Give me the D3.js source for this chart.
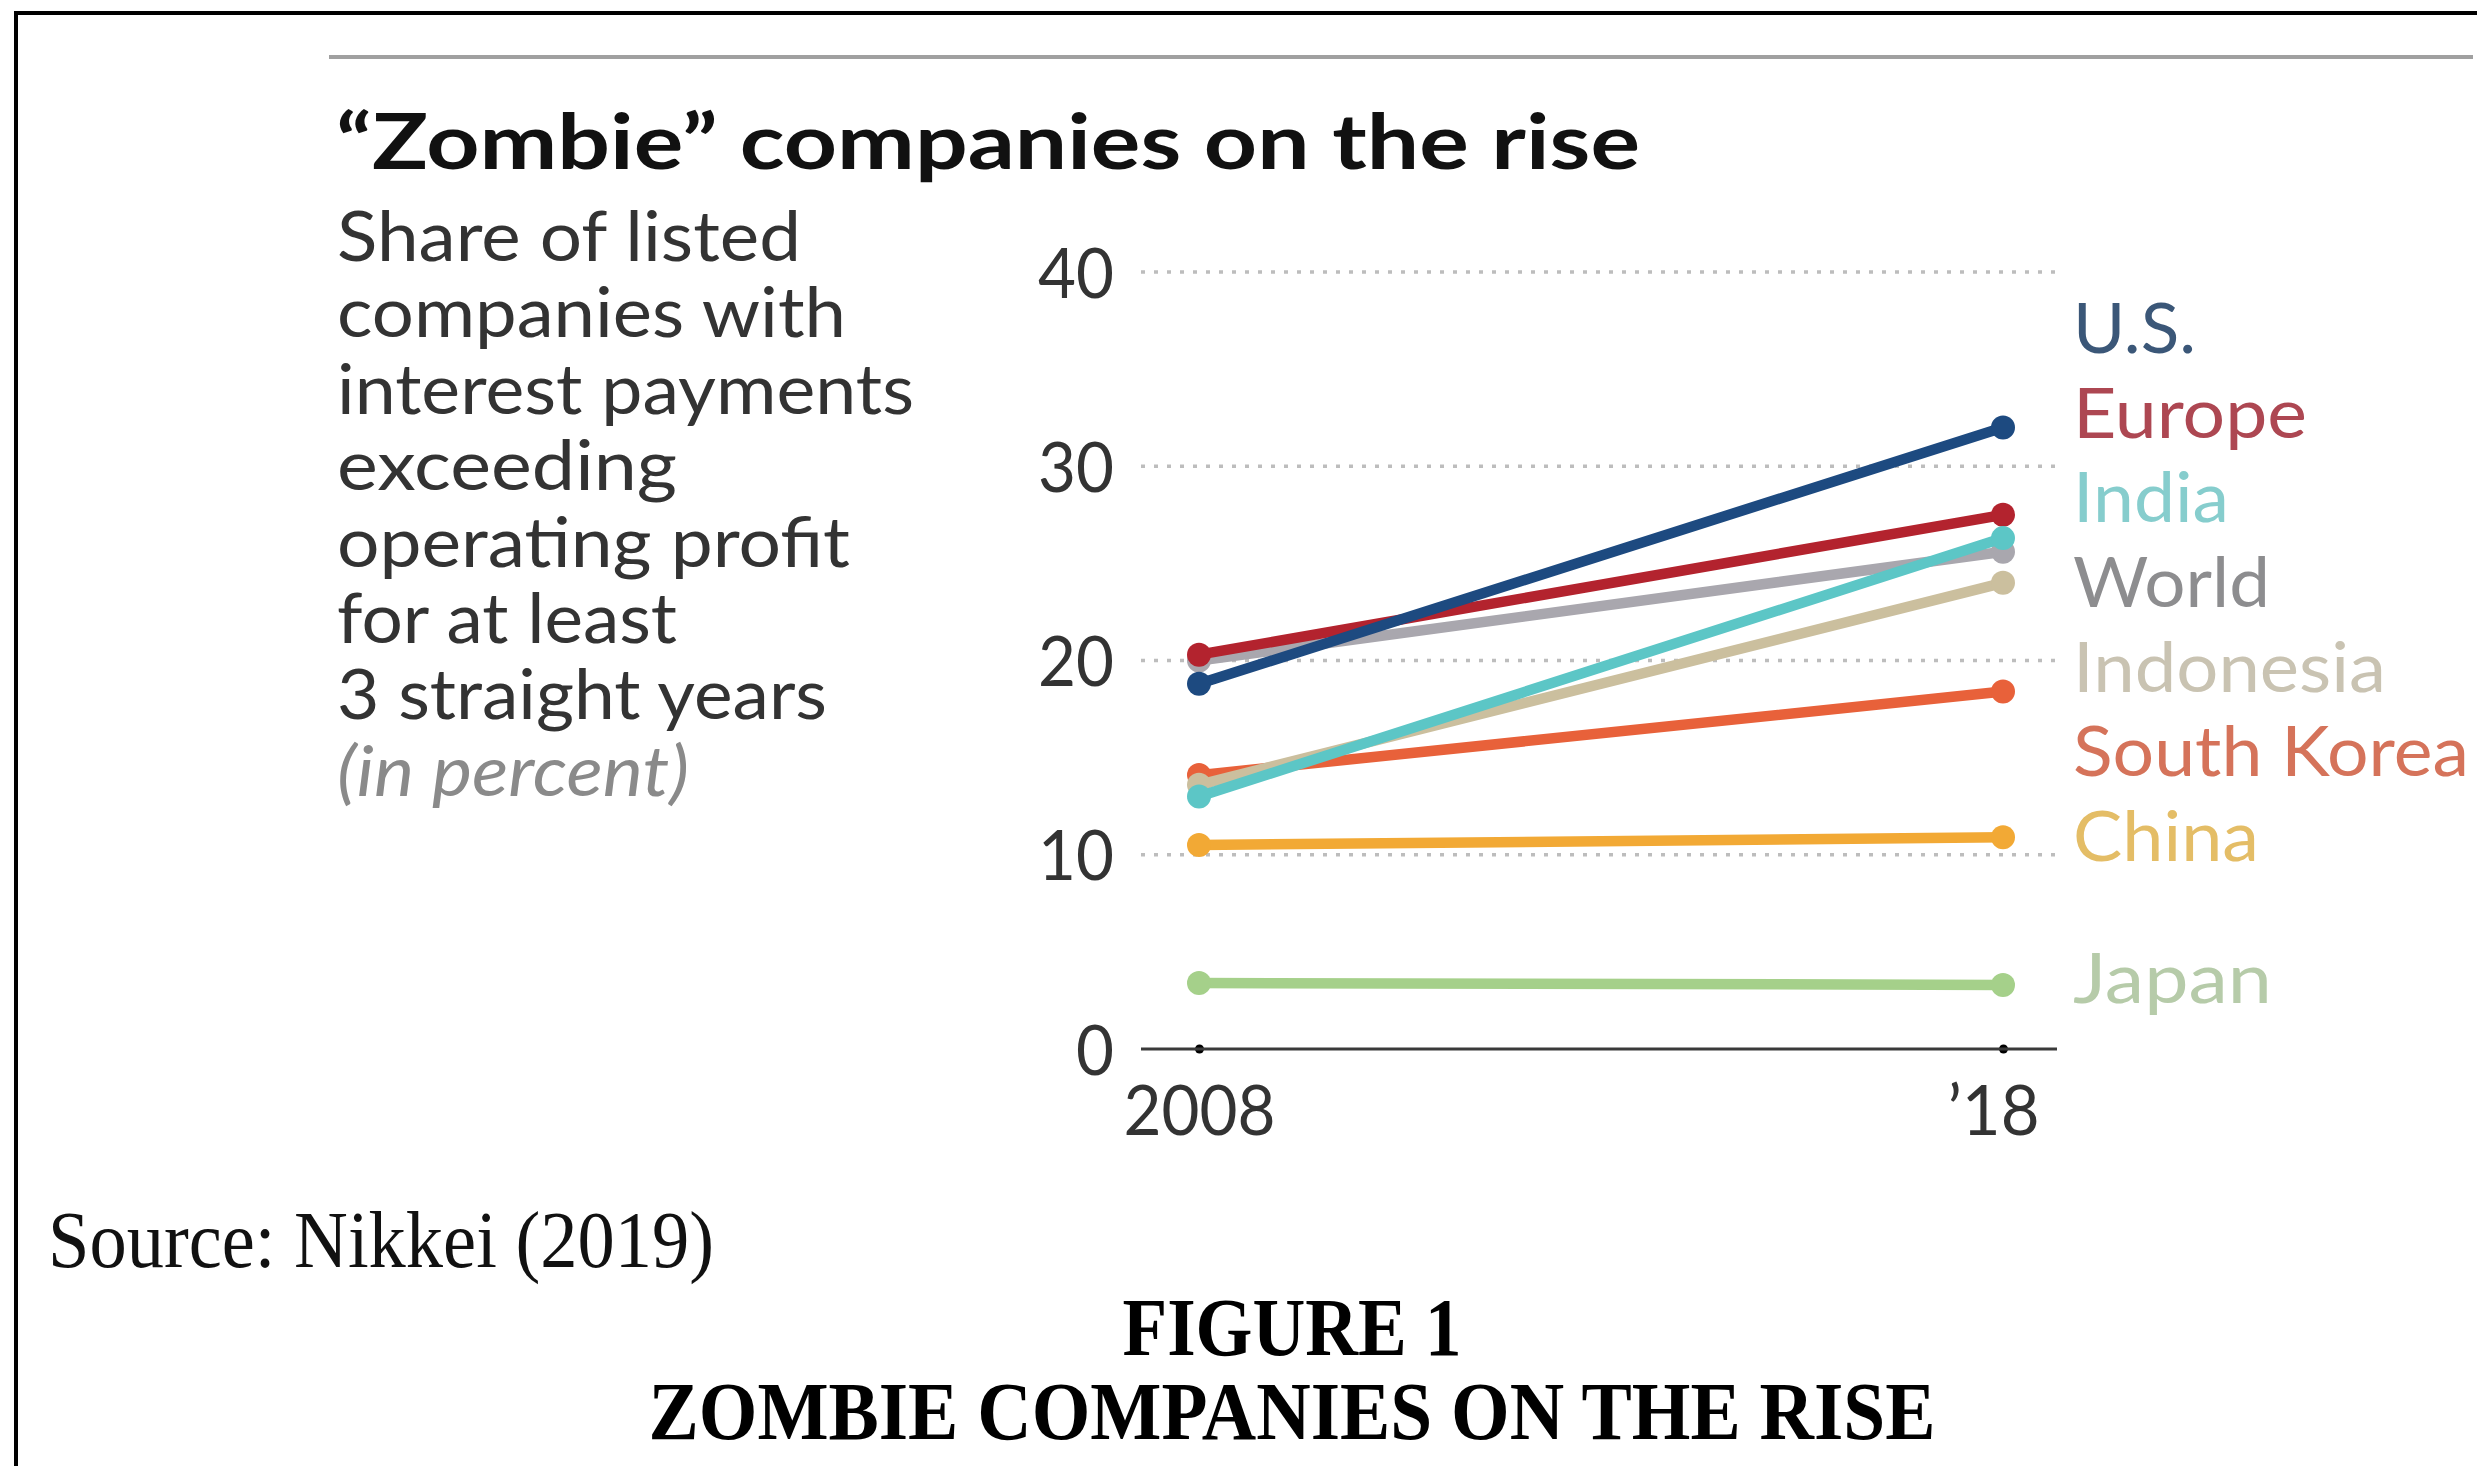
<!DOCTYPE html>
<html>
<head>
<meta charset="utf-8">
<script src="https://cdn.jsdelivr.net/npm/d3@7"></script>
<style>
  html, body { margin: 0; padding: 0; background: #fff; }
  svg { display: block; }
</style>
</head>
<body>
<script>
// Share of listed companies whose interest payments exceeded operating profit
// for at least three straight years, 2008 vs 2018 (percent).
const years = [2008, 2018];
const yearLabels = ["2008", "\u201918"];
const regions = ["U.S.", "Europe", "India", "World", "Indonesia", "South Korea", "China", "Japan"];
const share2008 = [18.8, 20.3, 13.0, 20.0, 13.6, 14.1, 10.5, 3.4];
const share2018 = [32.0, 27.5, 26.3, 25.6, 24.0, 18.4, 10.9, 3.3];
const yTicks = [0, 10, 20, 30, 40];

const lineColors  = ["#1d4a80", "#b3232e", "#5cc6c6", "#a9a7ae", "#cbbf9e", "#e8613a", "#f2a935", "#a5d08a"];
const labelColors = ["#3b5778", "#ad4752", "#86cdcd", "#8d8d8f", "#c9c3b2", "#d5735a", "#e4bd66", "#b6cba9"];

const subtitleLines = ["Share of listed", "companies with", "interest payments", "exceeding",
                       "operating profit", "for at least", "3 straight years"];

const W = 2477, H = 1466;
const SANS = "Lato, 'Open Sans', sans-serif";
const SERIF = "'Liberation Serif', 'Times New Roman', serif";

const svg = d3.select("body").append("svg")
  .attr("width", W).attr("height", H)
  .attr("viewBox", `0 0 ${W} ${H}`);

svg.append("rect").attr("width", W).attr("height", H).attr("fill", "#fff");

// frame (top and left edges)
svg.append("path")
  .attr("d", `M16,${H} L16,13 L${W},13`)
  .attr("fill", "none").attr("stroke", "#000").attr("stroke-width", 4);

// gray rule above the title
svg.append("line")
  .attr("x1", 329).attr("x2", 2473).attr("y1", 57).attr("y2", 57)
  .attr("stroke", "#a0a0a0").attr("stroke-width", 4);

function fit(sel, w) {
  return sel.attr("textLength", w).attr("lengthAdjust", "spacingAndGlyphs");
}

// title
fit(svg.append("text")
  .attr("x", 336).attr("y", 169)
  .attr("font-family", SANS).attr("font-weight", 700).attr("font-size", 77)
  .attr("fill", "#111")
  .text("\u201CZombie\u201D companies on the rise"), 1304);

// subtitle block
const subWidths = [464, 509, 577, 340, 513, 340, 490];
const subtitle = svg.append("g");
subtitleLines.forEach((t, i) => {
  fit(subtitle.append("text")
    .attr("x", 337).attr("y", 261 + i * 76.4)
    .attr("font-family", SANS).attr("font-size", 70)
    .attr("fill", "#333")
    .text(t), subWidths[i]);
});
fit(subtitle.append("text")
  .attr("x", 337).attr("y", 261 + 7 * 76.4)
  .attr("font-family", SANS).attr("font-style", "italic").attr("font-size", 70)
  .attr("fill", "#8a8a8a")
  .text("(in percent)"), 352);

// scales
const x = d3.scaleLinear().domain([years[0], years[1]]).range([1199, 2003]);
const y = d3.scaleLinear().domain([0, 40]).range([1049, 272]);
const plotLeft = 1141, plotRight = 2057;

// dotted gridlines
svg.append("g").selectAll("line")
  .data(yTicks.filter(d => d > 0))
  .join("line")
  .attr("x1", plotLeft).attr("x2", plotRight)
  .attr("y1", d => y(d)).attr("y2", d => y(d))
  .attr("stroke", "#bdbdbd").attr("stroke-width", 3.5)
  .attr("stroke-dasharray", "4,9");

// condensed numerals: roughly 38px per digit
const digitW = 38;

// y axis labels
const yAxis = d3.axisLeft(y).tickValues(yTicks).tickSize(0).tickPadding(0).tickFormat(d3.format("d"));
const yg = svg.append("g").attr("transform", "translate(1114,0)").call(yAxis);
yg.select(".domain").remove();
yg.selectAll("text")
  .attr("font-family", SANS).attr("font-size", 70).attr("fill", "#333")
  .attr("dy", "0.36em")
  .attr("textLength", d => String(d).length * digitW)
  .attr("lengthAdjust", "spacingAndGlyphs");

// x axis baseline with year ticks
const xAxis = d3.axisBottom(x).tickValues(years).tickSize(0).tickPadding(0)
  .tickFormat((d, i) => yearLabels[i]);
const xg = svg.append("g").attr("transform", `translate(0,${y(0)})`).call(xAxis);
xg.select(".domain").remove();
xg.append("line")
  .attr("x1", plotLeft).attr("x2", plotRight).attr("y1", 0).attr("y2", 0)
  .attr("stroke", "#3a3a3a").attr("stroke-width", 3);
xg.selectAll(".tick").append("circle").attr("r", 4.5).attr("fill", "#000");
xg.selectAll(".tick text")
  .attr("font-family", SANS).attr("font-size", 70).attr("fill", "#333")
  .attr("y", 86).attr("dy", 0)
  .attr("dx", (d, i) => i === 1 ? -10 : 0)
  .attr("textLength", (d, i) => i === 1 ? 92 : 152)
  .attr("lengthAdjust", "spacingAndGlyphs");

// series lines, drawn bottom-up so the leaders sit on top
const series = regions.map((name, i) => ({
  name, i, color: lineColors[i],
  values: [{ year: years[0], v: share2008[i] }, { year: years[1], v: share2018[i] }]
}));
const drawOrder = ["Japan", "China", "South Korea", "Indonesia", "World", "Europe", "India", "U.S."];
const line = d3.line().x(d => x(d.year)).y(d => y(d.v));

const gs = svg.append("g").selectAll("g")
  .data(drawOrder.map(n => series.find(s => s.name === n)))
  .join("g");
gs.append("path")
  .attr("d", d => line(d.values))
  .attr("fill", "none").attr("stroke", d => d.color)
  .attr("stroke-width", 10.5).attr("stroke-linecap", "round");
gs.selectAll("circle")
  .data(d => d.values.map(v => ({ ...v, color: d.color })))
  .join("circle")
  .attr("cx", d => x(d.year)).attr("cy", d => y(d.v))
  .attr("r", 12).attr("fill", d => d.color);

// direct labels at the right
const labelX = 2073;
const labelWidths = [123, 234, 156, 197, 313, 396, 186, 199];
const labelBaselines = [353, 438, 522, 607, 692, 776, 861, 1003];
svg.append("g").selectAll("text")
  .data(series)
  .join("text")
  .attr("x", labelX).attr("y", (d, i) => labelBaselines[i])
  .attr("font-family", SANS).attr("font-size", 70)
  .attr("fill", d => labelColors[d.i])
  .attr("textLength", (d, i) => labelWidths[i])
  .attr("lengthAdjust", "spacingAndGlyphs")
  .text(d => d.name);

// source and figure caption
fit(svg.append("text")
  .attr("x", 48).attr("y", 1267)
  .attr("font-family", SERIF).attr("font-size", 80).attr("fill", "#111")
  .text("Source: Nikkei (2019)"), 666);
fit(svg.append("text")
  .attr("x", 1292).attr("y", 1355).attr("text-anchor", "middle")
  .attr("font-family", SERIF).attr("font-weight", 700).attr("font-size", 82).attr("fill", "#000")
  .text("FIGURE 1"), 339);
fit(svg.append("text")
  .attr("x", 1292).attr("y", 1439).attr("text-anchor", "middle")
  .attr("font-family", SERIF).attr("font-weight", 700).attr("font-size", 82).attr("fill", "#000")
  .text("ZOMBIE COMPANIES ON THE RISE"), 1287);
</script>
</body>
</html>
